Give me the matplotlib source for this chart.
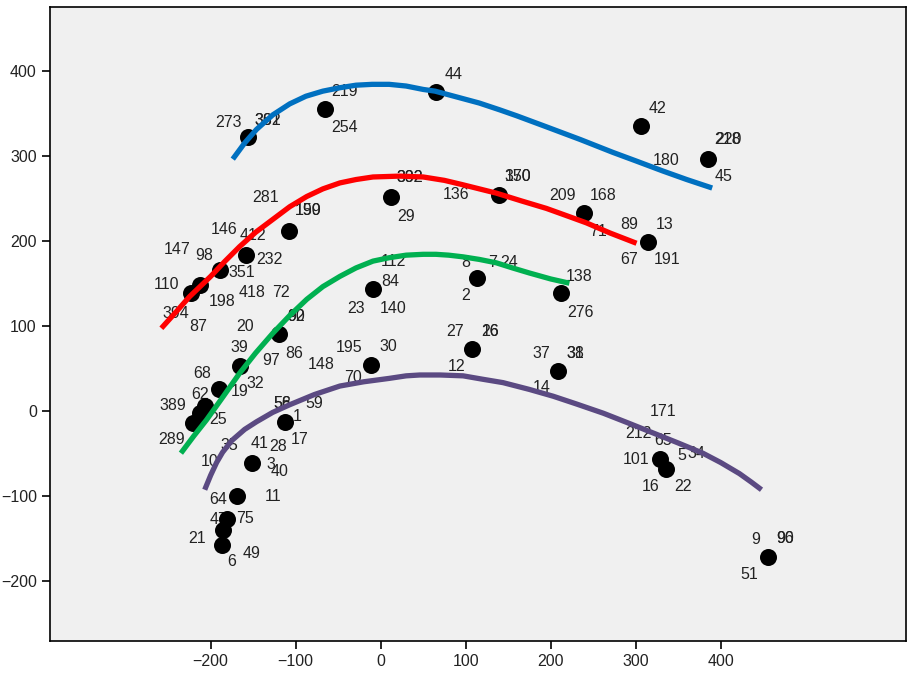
import matplotlib
matplotlib.use("Agg")
import matplotlib.pyplot as plt

# case positions (one marker per position; several cases may share one)
point_x = [-156, -66, 65, 306, 385,
           -108, -159, -189, -213, -223, 12, 139, 239, 314,
           -9, 113, 212, -120, -166, -190, -207, -213, -221,
           -11, 108, 209,
           -113, -151, -169, -181, -185, -187, 329, 336, 456]
point_y = [322, 355, 375, 335, 296,
           212, 183, 165, 148, 138, 251, 254, 233, 199,
           143, 156, 138, 90, 53, 25, 6, -3, -14,
           54, 73, 47,
           -13, -61, -100, -128, -140, -158, -57, -69, -172]

# case labels: text and the index of the marker they belong to
label_text = ["273", "361", "382", "219", "254", "44", "42", "218", "220", "180", "45",
              "159", "190", "281", "146", "412", "232", "98", "351", "147",
              "110", "198", "418", "72", "394", "87",
              "332", "392", "29", "170", "350", "136", "209", "168", "71",
              "89", "13", "67", "191",
              "112", "84", "23", "140", "8", "7", "24", "2", "138", "276",
              "90", "92", "86", "20", "39", "97", "32", "68", "19",
              "62", "389", "25", "289",
              "195", "30", "148", "70", "27", "16", "26", "12", "37", "31", "38", "14",
              "58", "56", "59", "1", "17", "28", "41", "3", "40", "35", "10",
              "64", "11", "47", "75", "21", "6", "49",
              "171", "212", "65", "5", "34", "101", "16", "22", "9", "90", "96", "51"]
label_point = [0, 0, 0, 1, 1, 2, 3, 4, 4, 4, 4,
               5, 5, 5, 6, 6, 6, 7, 7, 7,
               8, 8, 8, 8, 9, 9,
               10, 10, 10, 11, 11, 11, 12, 12, 12,
               13, 13, 13, 13,
               14, 14, 14, 14, 15, 15, 15, 15, 16, 16,
               17, 17, 17, 17, 18, 18, 18, 19, 19,
               20, 20, 22, 22,
               23, 23, 23, 23, 24, 24, 24, 24, 25, 25, 25, 25,
               26, 26, 26, 26, 26, 26, 27, 27, 27, 27, 27,
               28, 28, 29, 29, 31, 31, 31,
               32, 32, 32, 32, 32, 32, 33, 33, 34, 34, 34, 34]

# fit lines
blue_x = [-174, -160, -146, -127, -107, -88, -68, -48, -29, -10, 10, 30, 50, 64,
          90, 116, 140, 160, 195, 235, 273, 300, 332, 360, 390]
blue_y = [296, 315, 331, 348, 361, 370, 376, 380, 383, 384, 384, 382, 378, 376,
          369, 362, 354, 347, 334, 319, 304, 294, 282, 272, 262]
red_x = [-258, -240, -225, -200, -183, -166, -147, -127, -107, -87, -68, -48, -29,
         -9, 22, 50, 75, 96, 116, 136, 165, 195, 220, 242, 270, 301]
red_y = [97, 117, 134, 158, 176, 193, 210, 225, 240, 252, 261, 268, 272,
         275, 276, 275, 271, 266, 261, 256, 247, 238, 229, 221, 209, 197]
green_x = [-235, -220, -205, -185, -166, -147, -127, -107, -87, -68, -48, -29, -9,
           10, 30, 50, 65, 80, 97, 116, 136, 155, 175, 200, 222]
green_y = [-50, -30, -11, 17, 44, 68, 91, 112, 131, 146, 158, 168, 176,
           180, 183, 184, 184, 183, 181, 178, 174, 168, 162, 155, 150]
purple_x = [-207, -200, -193, -186, -175, -160, -146, -127, -107, -78, -48, -20, 10,
            30, 46, 70, 97, 120, 144, 175, 203, 230, 262, 290, 320, 350, 379, 400,
            422, 436, 448]
purple_y = [-93, -76, -61, -49, -35, -22, -13, -2, 7, 19, 29, 34, 38,
            41, 42, 42, 41, 37, 33, 25, 17, 8, -3, -14, -26, -38, -50, -61,
            -74, -84, -93]

ticks = [-200, -100, 0, 100, 200, 300, 400]

# label offsets in pixels from the marker centre (right, up)
label_offset = [(-20, 15), (20, 17), (20, 17), (20, 17), (20, -19), (18, 17), (17, 17),
                (20, 20), (20, 20), (-42, -1), (16, -17),
                (19, 20), (19, 20), (-23, 33), (-21, 26), (7, 20), (24, -4),
                (-16, 15), (22, -2), (-43, 21),
                (-33, 0), (23, -17), (52, -8), (81, -8), (-15, -20), (7, -33),
                (19, 20), (19, 20), (15, -19), (19, 18), (19, 18), (-43, 0),
                (-21, 17), (19, 17), (14, -19),
                (-18, 17), (17, 17), (-18, -18), (19, -18),
                (20, 28), (17, 8), (-17, -19), (20, -19), (-11, 16), (16, 16), (32, 16),
                (-11, -17), (18, 17), (20, -19),
                (17, 18), (17, 18), (16, -19), (-34, 8), (0, 18), (32, 5), (16, -18),
                (-17, 16), (20, -2),
                (-5, 11), (-32, 0), (25, 3), (-21, -17),
                (-22, 17), (17, 18), (-50, 0), (-18, -13), (-17, 17), (18, 17), (18, 17),
                (-16, -18), (-17, 17), (17, 17), (17, 17), (-17, -17),
                (-2, 18), (-2, 18), (30, 18), (13, 5), (15, -18), (-6, -25),
                (7, 19), (19, -2), (27, -9), (-23, 17), (-43, 1),
                (-19, -4), (36, -1), (-8, 0), (18, 1), (-25, 6), (10, -17), (30, -9),
                (3, 48), (-22, 26), (3, 19), (21, 4), (36, 6), (-24, 0),
                (-16, -17), (17, -17), (-13, 17), (17, 18), (17, 18), (-19, -18)]

plt.rcParams["font.family"] = ["Liberation Sans", "DejaVu Sans"]

fig = plt.figure(figsize=(9.09, 6.73), dpi=100)
ax = fig.add_axes([50 / 909, 1 - 641 / 673, 856 / 909, 634 / 673])
ax.set_facecolor("#f0f0f0")

ax.scatter(point_x, point_y, s=150, color="black", linewidths=0, zorder=2)

for text, idx, (dx, dy) in zip(label_text, label_point, label_offset):
    ax.annotate(text, (point_x[idx], point_y[idx]), xytext=(dx, dy),
                textcoords="offset pixels", ha="center", va="center",
                fontsize=11.5, color="#222222", zorder=1)

line_style = dict(lw=3.8, zorder=3, solid_capstyle="butt", solid_joinstyle="round")
ax.plot(blue_x, blue_y, color="#0070c0", **line_style)
ax.plot(red_x, red_y, color="#ff0000", **line_style)
ax.plot(green_x, green_y, color="#00b050", **line_style)
ax.plot(purple_x, purple_y, color="#5b4a82", **line_style)

ax.set_xlim(-389, 618)
ax.set_ylim(-271, 475)
ax.set_xticks(ticks)
ax.set_yticks(ticks)
ax.tick_params(direction="out", length=6, width=1.2, colors="black",
               labelsize=11.5, labelcolor="#222222")
for spine in ax.spines.values():
    spine.set_linewidth(1.2)
    spine.set_color("black")

fig.savefig("out.png", dpi=100, facecolor="white")
